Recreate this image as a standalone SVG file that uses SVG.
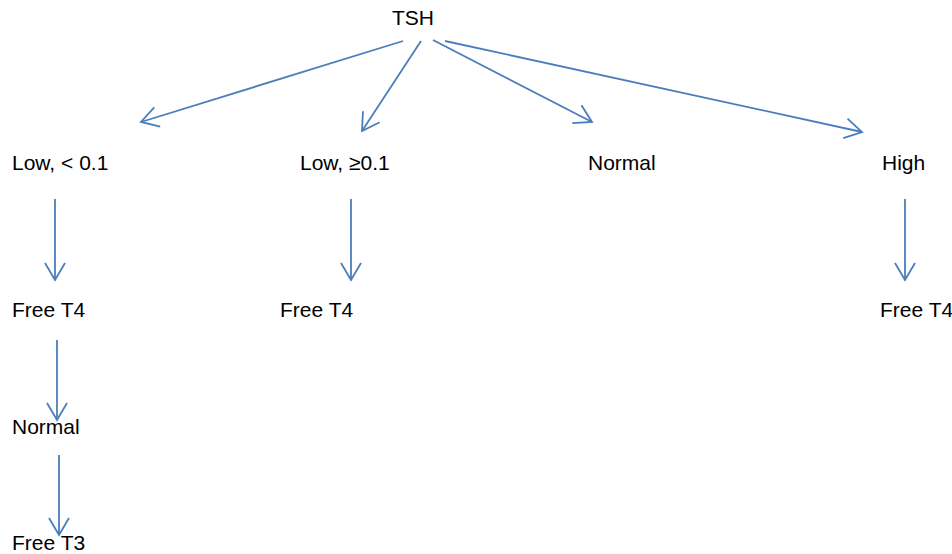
<svg xmlns="http://www.w3.org/2000/svg" width="952" height="554" viewBox="0 0 952 554">
<style>
text{font-family:"Liberation Sans",Arial,sans-serif;font-size:21px;fill:#000}
.c line{stroke:#4a7ebb;stroke-width:1.8;fill:none;marker-end:url(#ah)}
</style>
<defs>
<marker id="ah" markerUnits="userSpaceOnUse" markerWidth="24" markerHeight="26" viewBox="-20 -13 24 26" refX="0" refY="0" orient="auto" overflow="visible">
<path d="M-17,-10 L0,0 L-17,10" fill="none" stroke="#4a7ebb" stroke-width="1.8"/>
</marker>
</defs>
<rect width="952" height="554" fill="#fff"/>
<g class="c" id="connectors">
<line x1="403" y1="41" x2="141" y2="122"/>
<line x1="421" y1="41" x2="362" y2="131"/>
<line x1="433" y1="40" x2="592" y2="122"/>
<line x1="445" y1="41" x2="862" y2="132"/>
<line x1="55" y1="199" x2="55" y2="280"/>
<line x1="351" y1="199" x2="351" y2="280"/>
<line x1="905" y1="199" x2="905" y2="280"/>
<line x1="57" y1="340" x2="57" y2="420"/>
<line x1="59" y1="455" x2="59" y2="535"/>
</g>
<g id="tsh"><text x="392" y="25">TSH</text></g>
<g id="low1"><text x="12" y="170">Low, &lt; 0.1</text></g>
<g id="low2"><text x="300" y="170">Low, ≥0.1</text></g>
<g id="normal"><text x="588" y="170">Normal</text></g>
<g id="high"><text x="882" y="170">High</text></g>
<g id="ft4a"><text x="12" y="317">Free T4</text></g>
<g id="ft4b"><text x="280" y="317">Free T4</text></g>
<g id="ft4c"><text x="880" y="317">Free T4</text></g>
<g id="normal2"><text x="12" y="434">Normal</text></g>
<g id="ft3"><text x="12" y="550">Free T3</text></g>
</svg>
